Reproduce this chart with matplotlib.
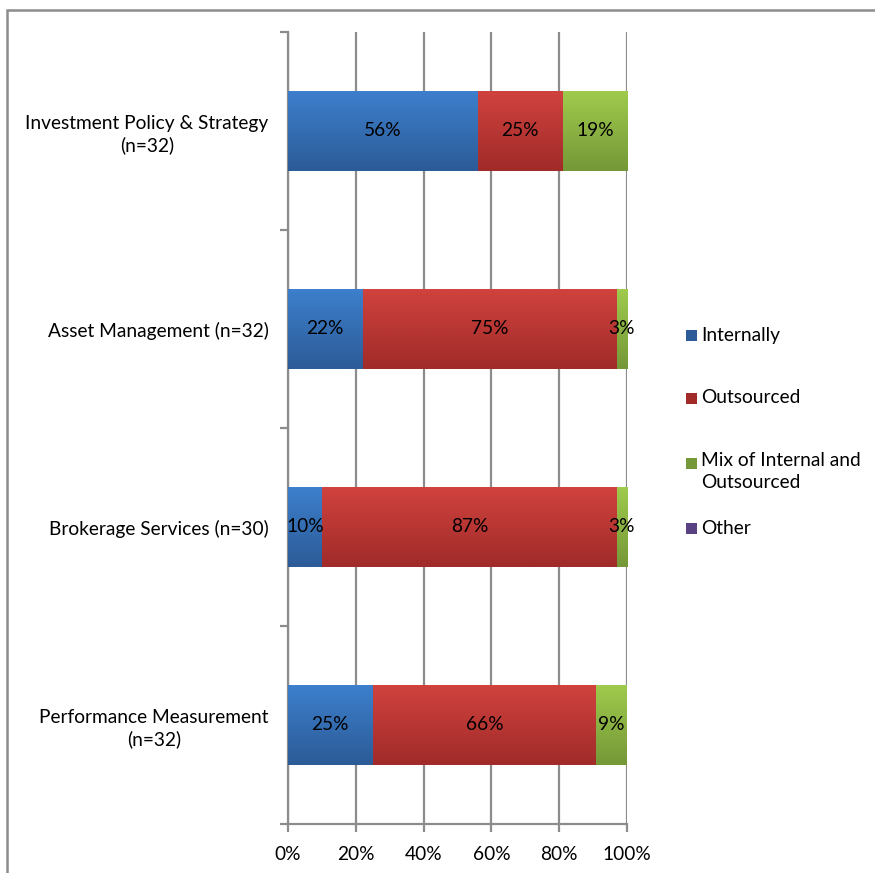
import numpy as np
import matplotlib.pyplot as plt
from matplotlib.colors import LinearSegmentedColormap
from matplotlib.patches import Rectangle
from matplotlib.ticker import FuncFormatter, FixedLocator

plt.rcParams['font.family'] = ['Lato', 'DejaVu Sans']

categories = ["Investment Policy & Strategy\n(n=32)", "Asset Management (n=32)",
              "Brokerage Services (n=30)", "Performance Measurement\n(n=32)"]
series_names = ["Internally", "Outsourced", "Mix of Internal and\nOutsourced", "Other"]
internally = [56, 22, 10, 25]
outsourced = [25, 75, 87, 66]
mixed = [19, 3, 3, 9]
other = [0, 0, 0, 0]
x_ticks = [0, 20, 40, 60, 80, 100]

# (top, bottom) colours for the vertical gradient on each series
grads = [("#3d7fcc", "#2c5b97"),
         ("#d0423e", "#a02b29"),
         ("#9fca4c", "#759838"),
         ("#7d5fae", "#5a4282")]

FS = 13.8
W, H = 875, 873
fig = plt.figure(figsize=(W / 100, H / 100), dpi=100)
fig.patch.set_facecolor("white")

# outer chart border (cut off at the right and bottom edges)
fig.patches.append(Rectangle((7 / W, -0.05), 1.2, 1.05 - 10 / H, transform=fig.transFigure,
                             fill=False, edgecolor="#8c8c8c", linewidth=1.8, zorder=0))

ax = fig.add_axes([288 / W, 1 - 824 / H, (627 - 288) / W, (824 - 32) / H])

y = np.arange(len(categories))
bar_h = 0.40
left = np.zeros(len(categories))
all_series = [internally, outsourced, mixed, other]
for vals, (c_top, c_bot) in zip(all_series, grads):
    vals = np.array(vals, dtype=float)
    bars = ax.barh(y, vals, left=left, height=bar_h, color=c_bot, linewidth=0, zorder=3)
    cmap = LinearSegmentedColormap.from_list("g", [c_top, c_bot])
    grad = np.linspace(0, 1, 64).reshape(-1, 1)
    for b in bars:
        if b.get_width() <= 0:
            continue
        x0, y0 = b.get_x(), b.get_y()
        x1, y1 = x0 + b.get_width(), y0 + b.get_height()
        ax.imshow(grad, extent=(x0, x1, y1, y0), origin="upper", cmap=cmap,
                  aspect="auto", zorder=4, interpolation="bilinear")
    labels = [f"{int(v)}%" if v > 0 else "" for v in vals]
    txts = ax.bar_label(bars, labels=labels, label_type="center", fontsize=FS,
                        color="black")
    for t in txts:
        t.set_zorder(6)
    left += vals

ax.set_xlim(0, 100)
ax.set_ylim(len(categories) - 0.5, -0.5)

ax.xaxis.set_major_locator(FixedLocator(x_ticks))
ax.xaxis.set_major_formatter(FuncFormatter(lambda v, p: f"{int(v)}%"))
ax.grid(axis="x", color="#8c8c8c", linewidth=1.6, zorder=1)
ax.set_axisbelow(True)

ax.set_yticks(y)
ax.set_yticklabels(categories, multialignment="center", linespacing=1.3)
ax.set_yticks(np.arange(-0.5, len(categories), 1.0), minor=True)
ax.tick_params(axis="y", which="major", length=0, pad=14, labelsize=FS)
ax.tick_params(axis="y", which="minor", length=6, width=1.6, color="#8c8c8c", direction="out")
ax.tick_params(axis="x", length=6, width=1.6, color="#8c8c8c", direction="out",
               labelsize=FS, pad=10)

for s in ["top", "right"]:
    ax.spines[s].set_visible(False)
for s in ["left", "bottom"]:
    ax.spines[s].set_color("#8c8c8c")
    ax.spines[s].set_linewidth(1.6)
    ax.spines[s].set_zorder(2)

# legend: coloured square plus label, stacked on the right
leg_rows = [335, 398, 463, 528]
for name, (c_top, c_bot), py in zip(series_names, grads, leg_rows):
    fig.patches.append(Rectangle((686 / W, 1 - (py + 6) / H), 11 / W, 11 / H,
                                 transform=fig.transFigure, facecolor=c_bot,
                                 edgecolor="none"))
    if "\n" in name:
        fig.text(701 / W, 1 - (py - 11) / H, name, fontsize=FS, va="top", ha="left",
                 linespacing=1.35)
    else:
        fig.text(701 / W, 1 - py / H, name, fontsize=FS, va="center", ha="left")

fig.savefig("out.png", dpi=100, facecolor="white")
